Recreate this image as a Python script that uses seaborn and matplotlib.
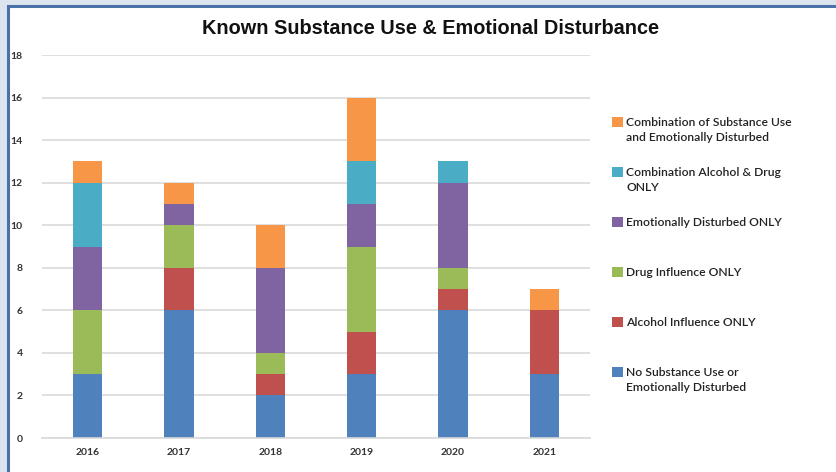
import matplotlib
matplotlib.use("Agg")
import matplotlib.pyplot as plt
import matplotlib.patches as mpatches
import seaborn as sns
import pandas as pd
import numpy as np

years = ["2016", "2017", "2018", "2019", "2020", "2021"]
series = [
    "No Substance Use or\nEmotionally Disturbed",
    "Alcohol Influence ONLY",
    "Drug Influence ONLY",
    "Emotionally Disturbed ONLY",
    "Combination Alcohol & Drug\nONLY",
    "Combination of Substance Use\nand Emotionally Disturbed",
]
no_substance = [3, 6, 2, 3, 6, 3]
alcohol_only = [0, 2, 1, 2, 1, 3]
drug_only = [3, 2, 1, 4, 1, 0]
emotional_only = [3, 1, 4, 2, 4, 0]
combo_alc_drug = [3, 0, 0, 2, 1, 0]
combo_sub_emo = [1, 1, 2, 3, 0, 1]
values = [no_substance, alcohol_only, drug_only, emotional_only, combo_alc_drug, combo_sub_emo]
colors = ["#4F81BD", "#C0504D", "#9BBB59", "#8064A2", "#4BACC6", "#F79646"]
yticks = [0, 2, 4, 6, 8, 10, 12, 14, 16, 18]

sns.set_theme(style="white")
plt.rcParams['font.family'] = ['Lato', 'DejaVu Sans']

W, H = 837, 472
fig = plt.figure(figsize=(W / 100, H / 100), dpi=100)
fig.patch.set_facecolor("#DCE5EF")
# white chart panel with blue border
panel = mpatches.Rectangle((8 / W, -0.1), 1.2, 1 - 6 / H + 0.1, transform=fig.transFigure,
                           facecolor="white", edgecolor="#4A72A8", linewidth=2.2, zorder=-5)
fig.patches.append(panel)

ax = fig.add_axes([42 / W, 1 - 438 / H, (590 - 42) / W, (438 - 55) / H])
ax.set_facecolor("none")

# stacked bars: draw cumulative totals from the top series down
bottom = np.zeros(len(years))
cum = []
for vals in values:
    bottom = bottom + np.array(vals)
    cum.append(bottom.copy())
for i in reversed(range(len(series))):
    df = pd.DataFrame({"year": years, "value": cum[i]})
    sns.barplot(data=df, x="year", y="value", color=colors[i], ax=ax, width=0.32,
                saturation=1, edgecolor="none", zorder=2)

ax.set_ylim(0, 18)
ax.set_xlim(-0.5, len(years) - 0.5)
ax.set_yticks(yticks)
ax.set_yticklabels([str(t) for t in yticks])
ax.yaxis.grid(True, color="#D9D9D9", linewidth=1.2, zorder=0)
ax.set_axisbelow(True)
for s in ["top", "right", "left"]:
    ax.spines[s].set_visible(False)
ax.spines["bottom"].set_color("#D9D9D9")
ax.spines["bottom"].set_linewidth(1.2)
ax.tick_params(axis="both", length=0, labelsize=7.5, colors="#333333")
ax.tick_params(axis="y", pad=14)
ax.tick_params(axis="x", pad=7)
for lbl in ax.get_xticklabels() + ax.get_yticklabels():
    lbl.set_fontweight("bold")
ax.set_xlabel("")
ax.set_ylabel("")

fig.text(431 / W, 1 - 28 / H, "Known Substance Use & Emotional Disturbance",
         ha="center", va="center", fontsize=14.3, fontweight="bold", color="#111111",
         family=["Liberation Sans", "DejaVu Sans"])

# legend entries (top to bottom)
tops = [124, 174, 224, 274, 324, 374]
order = [5, 4, 3, 2, 1, 0]
for top, idx in zip(tops, order):
    handle = mpatches.Patch(facecolor=colors[idx], edgecolor="none")
    lg = fig.legend([handle], [series[idx]], loc="upper left",
                    bbox_to_anchor=(612 / W, 1 - (top - 7) / H), frameon=False,
                    fontsize=8.7, handlelength=0.9, handleheight=0.9, handletextpad=0.3,
                    borderpad=0, borderaxespad=0)
    for t in lg.get_texts():
        t.set_color("#222222")
        t.set_fontweight("semibold")
        t.set_linespacing(1.45)
    try:
        for col in lg._legend_handle_box.get_children():
            for hp in col.get_children():
                hp.align = "top"
    except Exception:
        pass

fig.savefig("out.png", dpi=100, facecolor=fig.get_facecolor())
